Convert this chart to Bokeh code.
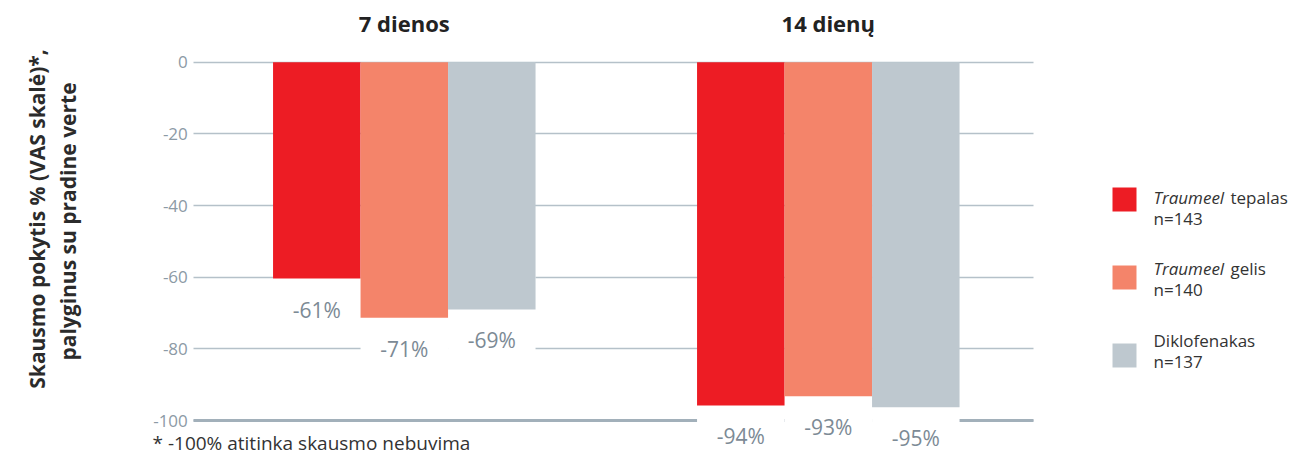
from math import pi
from bokeh.plotting import figure
from bokeh.models import Range1d, FixedTicker, Grid, LinearAxis, ColumnDataSource
from bokeh.transform import dodge
from bokeh.core.properties import value
from bokeh.embed import file_html
from bokeh.resources import INLINE

# ---------------- data ----------------
groups = ["7 dienos", "14 dienų"]
series = ["Traumeel tepalas", "Traumeel gelis", "Diklofenakas"]
brand = ["Traumeel", "Traumeel", ""]
form = ["tepalas", "gelis", "Diklofenakas"]
n_values = [143, 140, 137]
tepalas = [-60.4, -95.8]
gelis = [-71.3, -93.2]
diklofenakas = [-69.0, -96.3]
tepalas_lbl = ["-61%", "-94%"]
gelis_lbl = ["-71%", "-93%"]
diklofenakas_lbl = ["-69%", "-95%"]
y_ticks = [0, -20, -40, -60, -80, -100]
y_tick_labels = ["0", "-20", "-40", "-60", "-80", "-100"]
colors = ["#ED1C24", "#F4846A", "#BEC8CF"]
footnote = "* -100% atitinka skausmo nebuvima"
ytitle1 = "Skausmo pokytis % (VAS skalė)*,"
ytitle2 = "palyginus su pradine verte"

# ---------------- layout helpers (pixel -> data) ----------------
FONT = "Open Sans"
W, H = 1293, 454
X0, UX = 403.8, 424.0     # pixel of first group centre, pixels per group
Y0, UY = 61.7, 3.583      # pixel of value 0, pixels per percent
BAR_W = 87.5 / UX


def dx(px):
    return (px - X0) / UX


def dy(py):
    return (Y0 - py) / UY


GRID_L, GRID_R = 193.3, 1032.7

p = figure(width=W, height=H, x_range=Range1d(dx(0), dx(W)), y_range=Range1d(dy(H), dy(0)),
           output_backend="svg", toolbar_location=None, x_axis_location=None,
           y_axis_location=None, min_border=0)
p.outline_line_color = None
p.background_fill_color = "white"
p.xgrid.visible = False
p.ygrid.visible = False

has_cross = "cross_bounds" in Grid.properties()
grid_main = Grid(dimension=1, ticker=FixedTicker(ticks=y_ticks), grid_line_color="#B5C1C9",
                 grid_line_width=1.3)
grid_base = Grid(dimension=1, ticker=FixedTicker(ticks=[y_ticks[-1]]), grid_line_color="#A2B0BA",
                 grid_line_width=3)
if has_cross:
    grid_main.cross_bounds = (dx(GRID_L), dx(GRID_R))
    grid_base.cross_bounds = (dx(GRID_L), dx(GRID_R))
    p.add_layout(grid_main)
    p.add_layout(grid_base)
else:
    p.segment(x0=dx(GRID_L), x1=dx(GRID_R), y0=y_ticks, y1=y_ticks, line_color="#B5C1C9",
              line_width=1.3, level="underlay")
    p.segment(x0=dx(GRID_L), x1=dx(GRID_R), y0=[y_ticks[-1]], y1=[y_ticks[-1]],
              line_color="#A2B0BA", line_width=3, level="underlay")

yax = LinearAxis(fixed_location=dx(GRID_L), ticker=FixedTicker(ticks=y_ticks),
                 major_label_overrides={t: l for t, l in zip(y_ticks, y_tick_labels)},
                 axis_line_color=None, major_tick_line_color=None, minor_tick_line_color=None,
                 major_tick_in=0, major_tick_out=0, major_label_standoff=6,
                 major_label_text_font=FONT, major_label_text_font_size="17px",
                 major_label_text_color="#8C9AA5")
p.add_layout(yax, "left")

src = ColumnDataSource(dict(
    x=list(range(len(groups))), group=groups,
    tepalas=tepalas, gelis=gelis, diklofenakas=diklofenakas,
    tepalas_lbl=tepalas_lbl, gelis_lbl=gelis_lbl, diklofenakas_lbl=diklofenakas_lbl,
))
cols = ["tepalas", "gelis", "diklofenakas"]
offsets = [-BAR_W, 0.0, BAR_W]

# white boxes behind the value labels (they interrupt the gridlines)
for c, off in zip(cols, offsets):
    p.rect(x=dodge("x", off, range=p.x_range), y=c, width=BAR_W, height=100,
           height_units="screen", fill_color="white", line_color=None, source=src)

for c, off, col in zip(cols, offsets, colors):
    p.vbar(x=dodge("x", off, range=p.x_range), top=0, bottom=c, width=BAR_W,
           fill_color=col, line_color=None, source=src)

for c, off in zip(cols, offsets):
    p.text(x=dodge("x", off, range=p.x_range), y=c, text=c + "_lbl", y_offset=31,
           text_align="center", text_baseline="middle", text_font=value(FONT),
           text_font_size="21px", text_color="#7C8A95", source=src)

# group headings
p.text(x="x", y=0, text="group", y_offset=-39, text_align="center", text_baseline="middle",
       text_font=value(FONT), text_font_size="22px", text_font_style="bold",
       text_color="#222222", source=src)

# y-axis title (two rotated lines)
p.text(x=[dx(36), dx(67)], y=[dy(218.5), dy(221)], text=[ytitle1, ytitle2], angle=pi / 2,
       text_align="center", text_baseline="middle", text_font=value(FONT),
       text_font_size="21px", text_font_style="bold", text_color="#2B2B2B")

# footnote
p.text(x=[dx(152)], y=[dy(442)], text=[footnote], text_align="left",
       text_baseline="alphabetic", text_font=value(FONT), text_font_size="19px",
       text_color="#333333")

# legend
sq_py = [199, 277, 355]
txt_py = [197, 268, 340]
lsrc = ColumnDataSource(dict(
    sy=[dy(v) for v in sq_py], ty=[dy(v) for v in txt_py], color=colors,
    brand=brand, form=form, n=[f"n={v}" for v in n_values],
    fx=[77 if b else 0 for b in brand],
))
p.rect(x=dx(1124), y="sy", width=24, height=24, width_units="screen", height_units="screen",
       fill_color="color", line_color=None, source=lsrc)
p.text(x=dx(1153), y="ty", text="brand", text_baseline="middle", text_font=value(FONT),
       text_font_size="17px", text_font_style="italic", text_color="#333333", source=lsrc)
p.text(x=dx(1153), y="ty", text="form", x_offset="fx", text_baseline="middle",
       text_font=value(FONT), text_font_size="17px", text_color="#333333", source=lsrc)
p.text(x=dx(1153), y="ty", text="n", y_offset=21, text_baseline="middle",
       text_font=value(FONT), text_font_size="17px", text_color="#333333", source=lsrc)

open("out.html", "w").write(file_html(p, INLINE))
